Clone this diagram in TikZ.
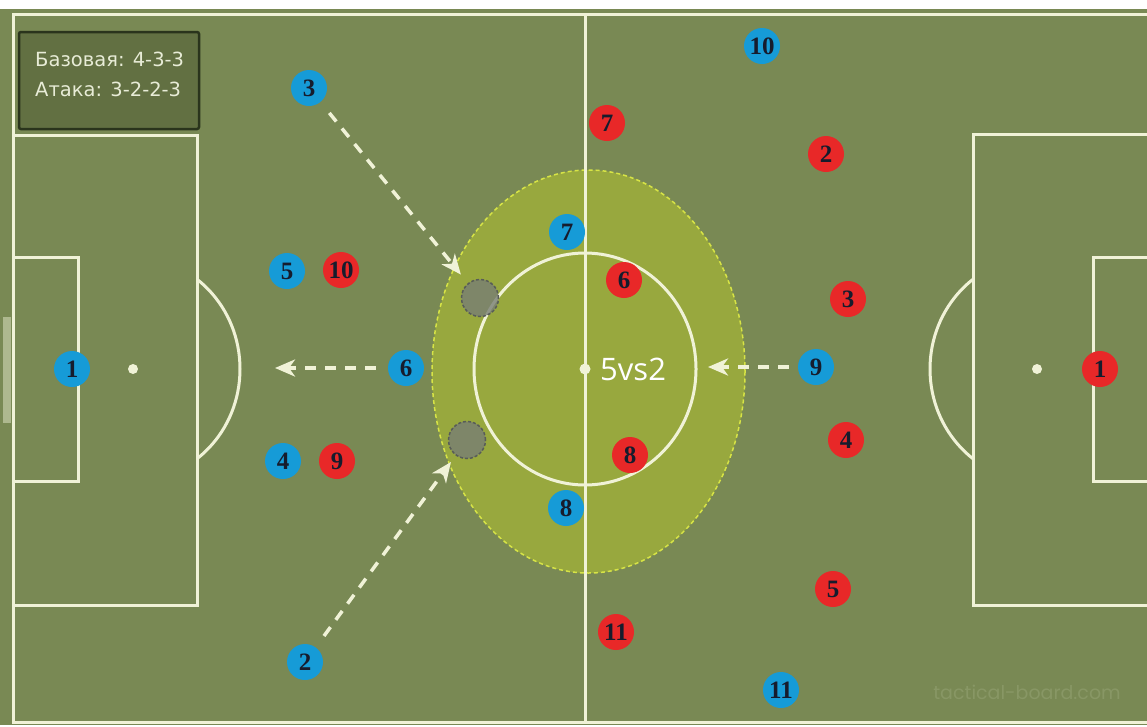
\documentclass[tikz,border=0pt]{standalone}
\usepackage{fontspec}
\setmainfont{DejaVu Sans}
\newfontfamily\numfont{Liberation Serif}
\newfontfamily\legfont{DejaVu Sans}
\newfontfamily\bigfont{Open Sans}
\newfontfamily\wmfont{Poppins}
\usetikzlibrary{arrows.meta}
\definecolor{field}{RGB}{121,137,84}
\definecolor{zonefill}{RGB}{152,168,62}
\definecolor{zoneedge}{RGB}{215,228,70}
\definecolor{pline}{RGB}{240,242,215}
\definecolor{pblue}{RGB}{22,155,215}
\definecolor{pred}{RGB}{232,40,40}
\definecolor{numtxt}{RGB}{22,28,45}
\definecolor{legfill}{RGB}{98,112,66}
\definecolor{legedge}{RGB}{42,52,28}
\definecolor{legtxt}{RGB}{232,236,215}
\definecolor{ghostfill}{RGB}{120,126,116}
\definecolor{ghostedge}{RGB}{88,92,88}
\definecolor{wmtxt}{RGB}{136,151,101}
\begin{document}
\begin{tikzpicture}[x=1pt,y=-1pt,
  pitchline/.style={draw=pline,line width=3pt},
  player/.style={circle,minimum size=36pt,inner sep=0pt,text=numtxt,
     font=\numfont\fontsize{25}{25}\selectfont\bfseries},
  bp/.style={player,fill=pblue},
  rp/.style={player,fill=pred},
  ghost/.style={circle,minimum size=37pt,inner sep=0pt,fill=ghostfill,fill opacity=0.8,
     draw=ghostedge,line width=1.5pt,dash pattern=on 3pt off 2pt},
  runarrow/.style={draw=pline,line width=3.5pt,dash pattern=on 11pt off 9pt,
     -{Stealth[length=20pt,width=17pt,inset=6pt]}},
  legtext/.style={anchor=west,text=legtxt,inner sep=0pt,font=\legfont\fontsize{19.5}{19.5}\selectfont}
]
\useasboundingbox (0,0) rectangle (1147,726);
\clip (0,0) rectangle (1147,726);
% background
\fill[field] (0,0) rectangle (1147,726);
\fill[white] (0,0) rectangle (1147,9);
\fill[white] (0,724.5) rectangle (1147,726);
% zone
\fill[zonefill] (588.5,371.5) ellipse [x radius=156.5, y radius=201.5];
\draw[zoneedge,line width=1.5pt,dash pattern=on 4pt off 3pt] (588.5,371.5) ellipse [x radius=156.5, y radius=201.5];
% goal
\fill[color=pline,opacity=0.45] (3,317) rectangle (11,423);
% pitch lines
\draw[pitchline] (1160,14) -- (13,14) -- (13,722) -- (1160,722);
\draw[pitchline] (585,14) -- (585,722);
\draw[pitchline] (13,135) -- (197,135) -- (197,605) -- (13,605);
\draw[pitchline] (13,257) -- (78,257) -- (78,481) -- (13,481);
\draw[pitchline] (1160,134) -- (973,134) -- (973,605) -- (1160,605);
\draw[pitchline] (1160,257) -- (1093,257) -- (1093,481) -- (1160,481);
\draw[pitchline] (585,369) ellipse [x radius=111, y radius=116];
\begin{scope}
  \clip (197,0) rectangle (400,726);
  \draw[pitchline] (133,369) ellipse [x radius=107, y radius=112];
\end{scope}
\begin{scope}
  \clip (760,0) rectangle (973,726);
  \draw[pitchline] (1037,369) ellipse [x radius=107, y radius=112];
\end{scope}
\fill[color=pline] (585,369) circle (5.5);
\fill[color=pline] (133,369) circle (5);
\fill[color=pline] (1037,369) circle (5);
% ghost positions
\node[ghost] (g1) at (480,298) {};
\node[ghost] (g2) at (467,440) {};
% legend
\fill[legfill,draw=legedge,line width=2.5pt,rounded corners=2pt] (19,32) rectangle (199,129);
\node[legtext] (l1) at (35,59) {Базовая: 4-3-3};
\node[legtext] (l2) at (35,89) {Атака: 3-2-2-3};
% label
\node[anchor=west,inner sep=0pt,text=white,font=\bigfont\fontsize{31}{31}\selectfont] (vs) at (600,369) {5vs2};
% watermark
\node[text=wmtxt,inner sep=0pt,font=\wmfont\fontsize{19}{19}\selectfont] (wm) at (1027,692) {tactical-board.com};
% blue players
\node[bp] (b1) at (72,369) {1};
\node[bp] (b2) at (305,662) {2};
\node[bp] (b3) at (309,88) {3};
\node[bp] (b4) at (283,461) {4};
\node[bp] (b5) at (287,271) {5};
\node[bp] (b6) at (406,368) {6};
\node[bp] (b7) at (567,232) {7};
\node[bp] (b8) at (566,508) {8};
\node[bp] (b9) at (816,367) {9};
\node[bp] (b10) at (762,46) {10};
\node[bp] (b11) at (781,690) {11};
% red players
\node[rp] (r1) at (1100,369) {1};
\node[rp] (r2) at (826,154) {2};
\node[rp] (r3) at (848,299) {3};
\node[rp] (r4) at (846,440) {4};
\node[rp] (r5) at (833,589) {5};
\node[rp] (r6) at (624,280) {6};
\node[rp] (r7) at (607,123) {7};
\node[rp] (r8) at (630,455) {8};
\node[rp] (r9) at (337,461) {9};
\node[rp] (r10) at (341,270) {10};
\node[rp] (r11) at (616,632) {11};
% runs
\coordinate (t6) at (275,368);
\coordinate (t9) at (708,367);
\draw[runarrow,shorten <=14pt,shorten >=11pt] (b3) -- (g1);
\draw[runarrow,shorten <=14pt,shorten >=8pt] (b2) -- (g2);
\draw[runarrow,shorten <=12pt] (b6) -- (t6);
\draw[runarrow,shorten <=9pt] (b9) -- (t9);
\end{tikzpicture}
\end{document}
